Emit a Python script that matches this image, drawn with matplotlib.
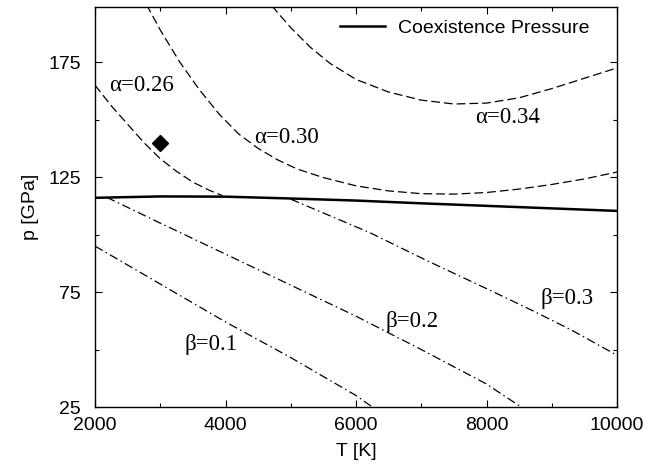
import matplotlib
matplotlib.use("Agg")
import matplotlib.pyplot as plt
from matplotlib.ticker import MultipleLocator

plt.rcParams["font.family"] = ["Liberation Sans", "DejaVu Sans"]

# coexistence pressure (solid line)
coex_T = [2000, 3000, 4000, 5000, 6000, 7000, 8000, 9000, 10000]
coex_p = [116.0, 116.6, 116.5, 115.7, 114.8, 113.6, 112.5, 111.4, 110.3]

# alpha contours (dashed)
a026_T = [2000, 2250, 2500, 2750, 3000, 3250, 3500, 3750, 3950]
a026_p = [165, 156, 148, 140, 133, 127.5, 122.8, 119.3, 117]

a030_T = [2790, 3000, 3300, 3600, 3900, 4200, 4500, 4800, 5100, 5500, 6000,
          6500, 7000, 7500, 8000, 8500, 9000, 9500, 10000]
a030_p = [200, 189, 175, 163, 152.5, 143.8, 137.5, 132.5, 128.5, 124.8, 121.2,
          119, 117.8, 117.6, 118.3, 119.8, 121.8, 124.2, 127.2]

a034_T = [4710, 5000, 5300, 5600, 6000, 6500, 7000, 7500, 8000, 8500, 9000,
          9500, 10000]
a034_p = [199.5, 190, 181.5, 174.5, 167.5, 162, 158.5, 156.8, 157.2, 159.5,
          163.5, 168, 172.5]

# beta contours (dash-dot)
b01_T = [2000, 3000, 4000, 5000, 6000, 6250]
b01_p = [95, 78.5, 62, 46.5, 30, 25]

b02_T = [2180, 3000, 4000, 5000, 6000, 7000, 8000, 8530]
b02_p = [116.2, 105, 91.5, 78, 64.5, 50, 35, 25]

b03_T = [5000, 5600, 6200, 7100, 8000, 8700, 9300, 10000]
b03_p = [115.4, 108.2, 101, 88.5, 76.5, 67, 58.5, 47.5]

# the single measured point
point_T = [3000]
point_p = [140]

# curve labels
labels = ["α=0.26", "α=0.30", "α=0.34", "β=0.1", "β=0.2", "β=0.3"]
label_T = [2716, 4942, 8330, 3778, 6860, 9234]
label_p = [164.7, 142.4, 151, 52.4, 62.4, 72]

fig = plt.figure(figsize=(6.68, 4.66), dpi=100)
ax = fig.add_axes([95 / 668, 59 / 466, 522 / 668, 400 / 466])

dashed = (0, (7, 3.2))
dashdot = (0, (7, 2.8, 1.2, 2.8))

ax.plot(coex_T, coex_p, color="black", lw=1.8, label="Coexistence Pressure")
for T, p in [(a026_T, a026_p), (a030_T, a030_p), (a034_T, a034_p)]:
    ax.plot(T, p, color="black", lw=0.9, linestyle=dashed)
for T, p in [(b01_T, b01_p), (b02_T, b02_p), (b03_T, b03_p)]:
    ax.plot(T, p, color="black", lw=0.9, linestyle=dashdot)

ax.plot(point_T, point_p, marker="D", color="black", ms=8, linestyle="none")

for txt, T, p in zip(labels, label_T, label_p):
    ax.text(T, p, txt, ha="center", va="center", fontsize=16.5,
            family=["Liberation Serif", "DejaVu Serif"])

ax.set_xlim(2000, 10000)
ax.set_ylim(25, 199)
ax.xaxis.set_major_locator(MultipleLocator(2000))
ax.xaxis.set_minor_locator(MultipleLocator(1000))
ax.yaxis.set_ticks([25, 75, 125, 175])
ax.yaxis.set_ticks([50, 100, 150], minor=True)

ax.tick_params(which="both", direction="in", top=True, right=True,
               labelsize=14, width=0.8)
ax.tick_params(which="major", length=5)
ax.tick_params(which="minor", length=3)
ax.tick_params(axis="x", pad=7)
ax.tick_params(axis="y", pad=10)

ax.set_xlabel("T [K]", fontsize=14, labelpad=7)
ax.set_ylabel("p [GPa]", fontsize=14, labelpad=7)

for s in ax.spines.values():
    s.set_linewidth(1.0)

ax.legend(loc="center left", bbox_to_anchor=(0.469, 0.9475), frameon=False,
          fontsize=14, handlelength=2.3, handletextpad=0.67, borderpad=0,
          borderaxespad=0)

fig.savefig("out.png", dpi=100)
